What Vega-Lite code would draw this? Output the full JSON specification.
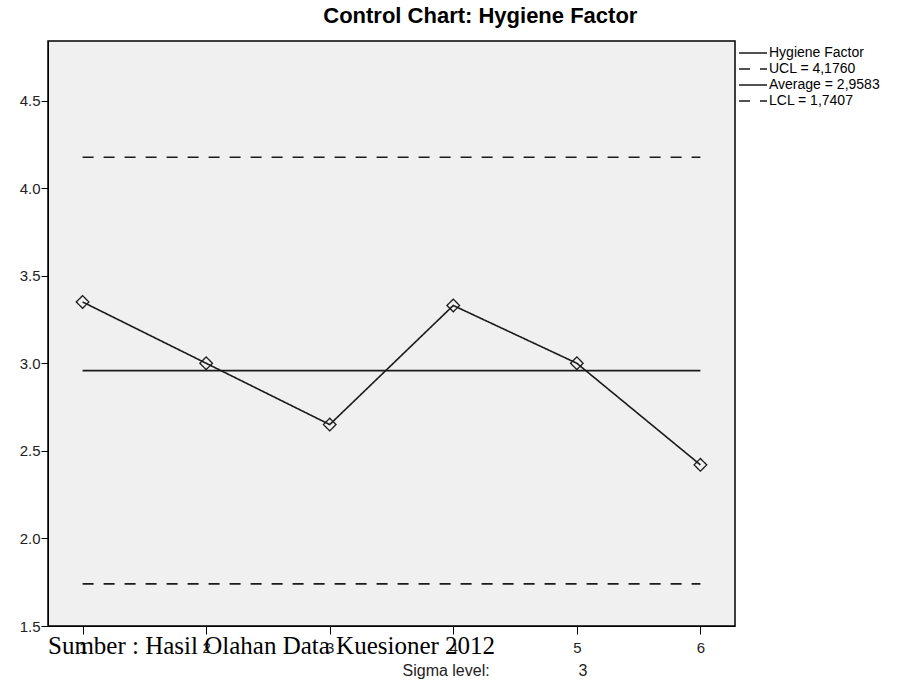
{
  "$schema": "https://vega.github.io/schema/vega-lite/v6.json",
  "background": "white",
  "padding": 5,
  "title": {
    "text": "Control Chart: Hygiene Factor",
    "font": "Liberation Sans",
    "fontSize": 22,
    "fontWeight": "bold",
    "color": "black",
    "anchor": "start",
    "frame": "bounds",
    "dx": 318,
    "offset": 12
  },
  "datasets": {
    "hygiene": [
      {"sample": 1, "value": 3.35, "series": "Hygiene Factor"},
      {"sample": 2, "value": 3.0, "series": "Hygiene Factor"},
      {"sample": 3, "value": 2.65, "series": "Hygiene Factor"},
      {"sample": 4, "value": 3.33, "series": "Hygiene Factor"},
      {"sample": 5, "value": 3.0, "series": "Hygiene Factor"},
      {"sample": 6, "value": 2.42, "series": "Hygiene Factor"}
    ],
    "limits": [
      {"series": "UCL = 4,1760", "value": 4.176, "start": 1, "end": 6},
      {"series": "Average = 2,9583", "value": 2.9583, "start": 1, "end": 6},
      {"series": "LCL = 1,7407", "value": 1.7407, "start": 1, "end": 6}
    ]
  },
  "vconcat": [
    {
      "width": 687,
      "height": 585,
      "title": {
        "text": "Sumber : Hasil Olahan Data Kuesioner 2012",
        "orient": "bottom",
        "anchor": "start",
        "frame": "group",
        "font": "Liberation Serif",
        "fontSize": 25,
        "fontWeight": "normal",
        "color": "black",
        "offset": -44
      },
      "layer": [
        {
          "data": {"name": "limits"},
          "mark": {"type": "rule", "color": "#1a1a1a", "strokeWidth": 1.6},
          "encoding": {
            "x": {"field": "start", "type": "quantitative"},
            "x2": {"field": "end"},
            "y": {"field": "value", "type": "quantitative"},
            "strokeDash": {"field": "series", "type": "nominal"}
          }
        },
        {
          "data": {"name": "hygiene"},
          "mark": {
            "type": "line",
            "color": "#1a1a1a",
            "strokeWidth": 1.6,
            "point": {"shape": "diamond", "filled": false, "size": 160, "stroke": "#1a1a1a", "strokeWidth": 1.3}
          },
          "encoding": {
            "x": {
              "field": "sample",
              "type": "quantitative",
              "scale": {"domain": [0.72, 6.28], "nice": false, "zero": false},
              "axis": {
                "values": [1, 2, 3, 4, 5, 6],
                "format": "d",
                "title": "Sigma level:\u00a0\u00a0\u00a0\u00a0\u00a0\u00a0\u00a0\u00a0\u00a0\u00a0\u00a0\u00a0\u00a0\u00a0\u00a0\u00a0\u00a0\u00a0\u00a0\u00a03",
                "titleFont": "Liberation Sans",
                "titleFontSize": 16,
                "titleFontWeight": "normal",
                "titleColor": "#222",
                "titleAlign": "left",
                "titleX": 354,
                "titleY": 36,
                "grid": false,
                "tickSize": 8,
                "tickColor": "black",
                "domainColor": "black",
                "labelFont": "Liberation Sans",
                "labelFontSize": 15,
                "labelColor": "#222",
                "labelPadding": 6
              }
            },
            "y": {
              "field": "value",
              "type": "quantitative",
              "scale": {"domain": [1.5, 4.84], "nice": false, "zero": false},
              "axis": {
                "values": [1.5, 2, 2.5, 3, 3.5, 4, 4.5],
                "format": ".1f",
                "title": null,
                "grid": false,
                "tickSize": 7,
                "tickColor": "black",
                "domainColor": "black",
                "labelFont": "Liberation Sans",
                "labelFontSize": 15,
                "labelColor": "#222",
                "labelPadding": 1,
                "minExtent": 42,
                "maxExtent": 42
              }
            },
            "strokeDash": {
              "field": "series",
              "type": "nominal",
              "scale": {
                "domain": ["Hygiene Factor", "UCL = 4,1760", "Average = 2,9583", "LCL = 1,7407"],
                "range": [[1, 0], [11, 10], [1, 0], [11, 10]]
              },
              "legend": {
                "title": null,
                "orient": "none",
                "legendX": 697,
                "legendY": 4,
                "padding": 0,
                "symbolType": "M-2,0H2",
                "symbolSize": 196,
                "symbolStrokeWidth": 1.5,
                "symbolStrokeColor": "#1a1a1a",
                "labelFont": "Liberation Sans",
                "labelFontSize": 14,
                "labelColor": "black",
                "labelOffset": 8,
                "rowPadding": 1
              }
            }
          }
        }
      ]
    }
  ],
  "config": {
    "view": {"fill": "#f0f0f0", "stroke": "black", "strokeWidth": 1.5},
    "concat": {"spacing": 0}
  }
}
